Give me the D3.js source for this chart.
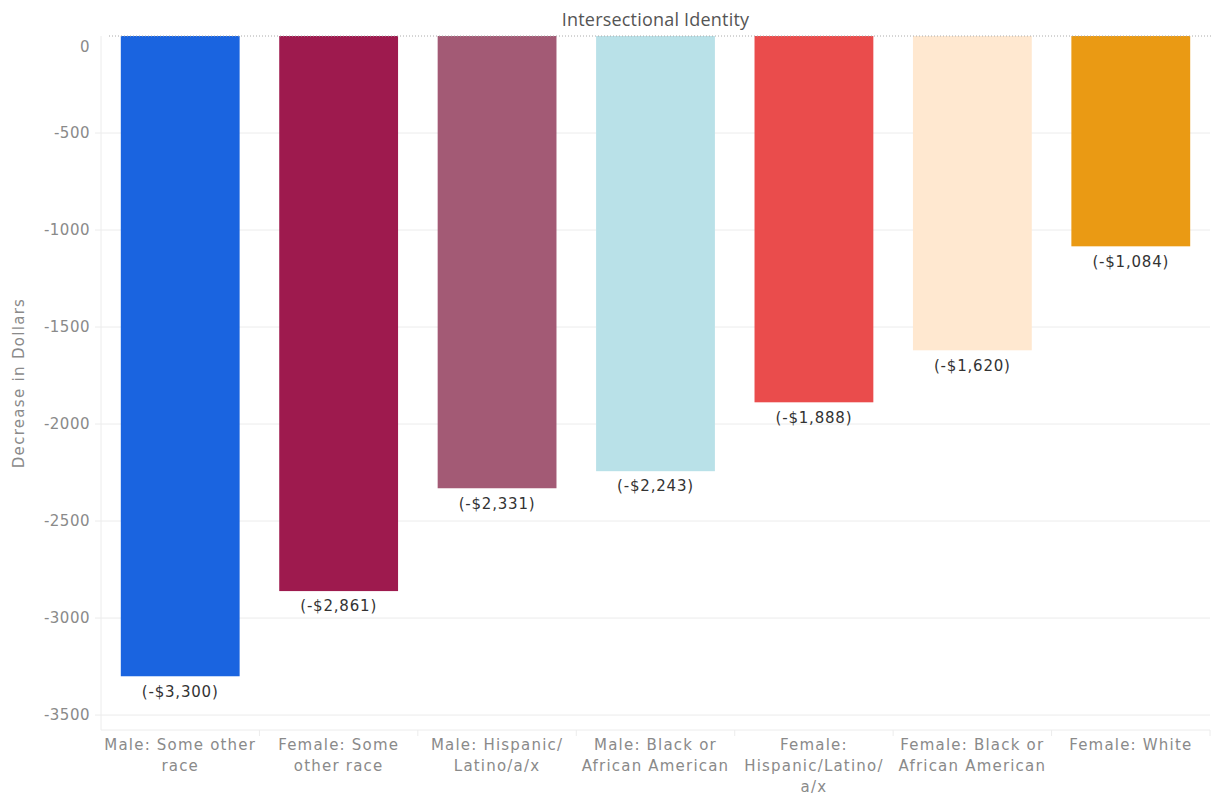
<!DOCTYPE html>
<html><head><meta charset="utf-8">
<script src="https://cdn.jsdelivr.net/npm/d3@7"></script>
<style>body{margin:0;background:#fff;} text{font-family:"DejaVu Sans","Noto Sans",sans-serif;letter-spacing:0.5px;}</style>
</head><body>
<svg id="chart" width="1213" height="795"></svg>
<script>
const categories = ["Male: Some other race","Female: Some other race","Male: Hispanic/Latino/a/x","Male: Black or African American","Female: Hispanic/Latino/a/x","Female: Black or African American","Female: White"];
const labelLines = [["Male: Some other","race"],["Female: Some","other race"],["Male: Hispanic/","Latino/a/x"],["Male: Black or","African American"],["Female:","Hispanic/Latino/","a/x"],["Female: Black or","African American"],["Female: White"]];
const values = [-3300,-2861,-2331,-2243,-1888,-1620,-1084];
const colors = ["#1A64E0","#9E1A4E","#A35A75","#B9E1E8","#EA4C4C","#FFE8D0","#EA9A14"];
const yTicks = [0,-500,-1000,-1500,-2000,-2500,-3000,-3500];
const yMin = -3577;

const svg = d3.select("#chart");
const m = {left:101, right:1210, top:36, bottom:730};
const x = d3.scaleBand().domain(categories).range([m.left,m.right]).paddingInner(0.25).paddingOuter(0.125);
const xb = d3.scaleBand().domain(categories).range([m.left,m.right]);
const y = d3.scaleLinear().domain([0,yMin]).range([m.top,m.bottom]);

svg.append("g").selectAll("line").data(yTicks.filter(d=>d!==0)).join("line")
  .attr("x1",m.left).attr("x2",m.right).attr("y1",d=>y(d)).attr("y2",d=>y(d))
  .attr("stroke","#ececec").attr("stroke-width",1);
svg.append("line").attr("x1",m.left).attr("x2",m.right).attr("y1",m.bottom).attr("y2",m.bottom).attr("stroke","#ececec");
svg.append("line").attr("x1",m.left).attr("x2",m.left).attr("y1",m.top).attr("y2",m.bottom).attr("stroke","#ececec");
svg.append("g").selectAll("line").data(categories).join("line")
  .attr("x1",d=>xb(d)+xb.bandwidth()).attr("x2",d=>xb(d)+xb.bandwidth())
  .attr("y1",m.bottom).attr("y2",m.bottom+6).attr("stroke","#ececec");

svg.append("g").selectAll("text").data(yTicks).join("text")
  .attr("x",90).attr("y",d=>d===0?Math.max(y(d),47):y(d)).attr("dy","0.35em")
  .attr("text-anchor","end").attr("fill","#8a8a8a").attr("font-size",15).text(d=>d);
svg.append("g").selectAll("line").data(yTicks.filter(d=>d!==0)).join("line")
  .attr("x1",m.left-6).attr("x2",m.left).attr("y1",d=>y(d)).attr("y2",d=>y(d)).attr("stroke","#ececec");

svg.append("g").selectAll("rect").data(values).join("rect")
  .attr("x",(d,i)=>x(categories[i])).attr("width",x.bandwidth())
  .attr("y",y(0)).attr("height",d=>y(d)-y(0))
  .attr("fill",(d,i)=>colors[i]);

svg.append("line").attr("x1",m.left+8).attr("x2",m.right+3).attr("y1",m.top).attr("y2",m.top)
  .attr("stroke","#aaa").attr("stroke-width",1).attr("stroke-dasharray","1,2");

const fmt = d3.format(",");
svg.append("g").selectAll("text").data(values).join("text")
  .attr("x",(d,i)=>x(categories[i])+x.bandwidth()/2).attr("y",d=>y(d)+15).attr("dy","0.35em")
  .attr("text-anchor","middle").attr("fill","#333").attr("font-size",15).style("letter-spacing","0.8px")
  .text(d=>"(-$"+fmt(Math.abs(d))+")");

const xl = svg.append("g").selectAll("text").data(categories).join("text")
  .attr("x",d=>xb(d)+xb.bandwidth()/2).attr("y",745).attr("dy","0.35em")
  .attr("text-anchor","middle").attr("fill","#8a8a8a").attr("font-size",15).style("letter-spacing","1.2px");
xl.each(function(d,i){
  const t=d3.select(this);
  labelLines[i].forEach((l,j)=>t.append("tspan").attr("x",xb(d)+xb.bandwidth()/2).attr("dy",j===0?"0.35em":"21px").text(l));
});

svg.append("text").attr("x",(m.left+m.right)/2).attr("y",20).attr("dy","0.35em")
  .attr("text-anchor","middle").attr("fill","#555").attr("font-size",18)
  .style("font-family","'Liberation Sans Narrow','Open Sans',sans-serif").style("letter-spacing","0.2px").text("Intersectional Identity");
svg.append("text").attr("transform",`translate(19,${(m.top+m.bottom)/2}) rotate(-90)`).attr("dy","0.35em")
  .attr("text-anchor","middle").attr("fill","#8a8a8a").attr("font-size",15).style("letter-spacing","1.3px").text("Decrease in Dollars");
</script>
</body></html>
